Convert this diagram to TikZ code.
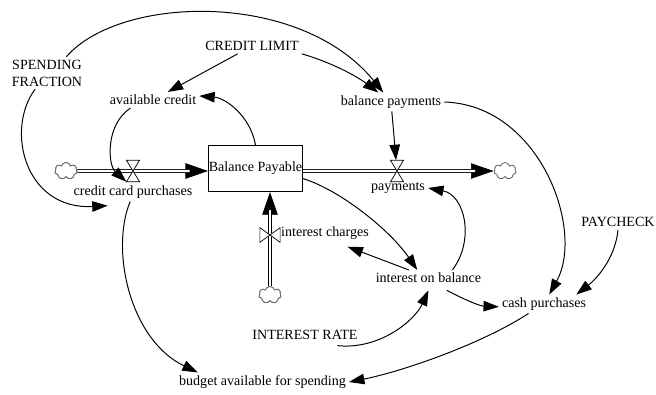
\documentclass[tikz,border=0pt]{standalone}
\usepackage{fontspec}
\setmainfont{Liberation Serif}
\usetikzlibrary{arrows.meta, shapes.symbols}

\begin{document}
\begin{tikzpicture}[
        x=0.025cm, y=-0.025cm,
        font=\fontsize{10}{12}\selectfont,
        aux/.style={inner sep=2pt, align=center},
        stock/.style={rectangle, draw, line width=0.6pt, minimum width=67pt, minimum height=33pt, inner sep=0pt},
        cloudbox/.style={cloud, cloud puffs=7, aspect=1.4, draw=black!60, fill=white, line width=0.6pt, minimum width=16pt, minimum height=12pt, inner sep=0pt},
        valvebox/.style={inner sep=0pt, minimum width=9pt, minimum height=15pt},
        valve/.style={draw, fill=white, line width=0.5pt},
        pipe/.style={double, double distance=1.6pt, line width=0.5pt, shorten >=13pt},
        pipehead/.style={line width=0.4pt, -{Triangle[length=16pt,width=11pt]}},
        link/.style={line width=0.7pt, -{Triangle[length=11pt,width=7.5pt]}},
    ]
        \useasboundingbox (0,0) rectangle (656,394);

        % Stock, sources and sinks
        \node[stock] (bal) at (255.5,168.5) {Balance Payable};
        \node[cloudbox] (c1) at (66,171) {};
        \node[cloudbox] (c2) at (505,171) {};
        \node[cloudbox] (c3) at (270,295) {};

        % Valves
        \node[valvebox] (v1) at (133,171) {};
        \node[valvebox] (v2) at (397,171) {};
        \node[valvebox, minimum width=14pt, minimum height=10pt] (v3) at (270,235) {};

        % Variables
        \node[aux] (ccp) at (133,192) {credit card purchases};
        \node[aux] (pay) at (398,188) {payments};
        \node[aux] (ic) at (325,233) {interest charges};
        \node[aux] (ac) at (153,100) {available credit};
        \node[aux] (cl) at (252,46) {CREDIT LIMIT};
        \node[aux] (sf) at (47,73) {SPENDING\\FRACTION};
        \node[aux] (bp) at (391,102) {balance payments};
        \node[aux] (iob) at (428.5,278) {interest on balance};
        \node[aux] (cp) at (544,304) {cash purchases};
        \node[aux] (pc) at (618,222) {PAYCHECK};
        \node[aux] (ir) at (305,335) {INTEREST RATE};
        \node[aux] (bud) at (262.5,382) {budget available for spending};

        % Flows
        \draw[pipehead] (c1) -- (bal.west |- c1);
        \draw[pipe] (c1) -- (bal.west |- c1);
        \draw[pipehead] (bal.east |- c2) -- (c2);
        \draw[pipe] (bal.east |- c2) -- (c2);
        \draw[pipehead] (c3) -- (bal.south -| c3);
        \draw[pipe] (c3) -- (bal.south -| c3);
        \draw[valve] (v1.north west) -- (v1.south east) -- (v1.south west) -- (v1.north east) -- cycle;
        \draw[valve] (v2.north west) -- (v2.south east) -- (v2.south west) -- (v2.north east) -- cycle;
        \draw[valve] (v3.north west) -- (v3.south east) -- (v3.north east) -- (v3.south west) -- cycle;
        \node[cloudbox] at (c1) {};
        \node[cloudbox] at (c3) {};

        % Links
        \draw[link] (sf.40) .. controls (120,-5) and (300,-10) .. (bp);
        \draw[link] (cl) -- (ac);
        \draw[link] (cl.south east) .. controls (330,62) and (355,75) .. (bp);
        \draw[link] (bal.north) .. controls (250,115) and (225,98) .. (ac.5);
        \draw[link] ([xshift=-16pt]ac.south) .. controls (105,125) and (108,165) .. (v1.south west);
        \draw[link] (sf) .. controls (5,130) and (25,210) .. ([xshift=-18pt,yshift=-3pt]ccp.south);
        \draw[link] ([xshift=-2pt]ccp.south) .. controls (110,250) and (130,340) .. ([xshift=-46pt]bud.north);
        \draw[link] (bp) -- (v2);
        \draw[link] (bp.east) .. controls (540,105) and (585,230) .. (cp);
        \draw[link] (bal.-12) .. controls (340,190) and (390,230) .. ([xshift=-8pt]iob.north);
        \draw[link] ([xshift=-14pt]iob.north) -- ([xshift=16pt,yshift=-3pt]ic.south);
        \draw[link] ([xshift=17pt]iob.north) .. controls (475,240) and (465,195) .. (pay.east);
        \draw[link] ([xshift=23pt,yshift=-2pt]ir.south) .. controls (380,350) and (415,320) .. ([yshift=-3pt]iob.south);
        \draw[link] ([xshift=13pt,yshift=-3pt]iob.south) .. controls (465,300) and (480,306) .. ([yshift=-2pt]cp.west);
        \draw[link] (pc.south) .. controls (615,260) and (595,280) .. ([xshift=23pt]cp.north);
        \draw[link] ([xshift=-11pt]cp.south) .. controls (480,345) and (400,372) .. (bud.east);
    \end{tikzpicture}
\end{document}
